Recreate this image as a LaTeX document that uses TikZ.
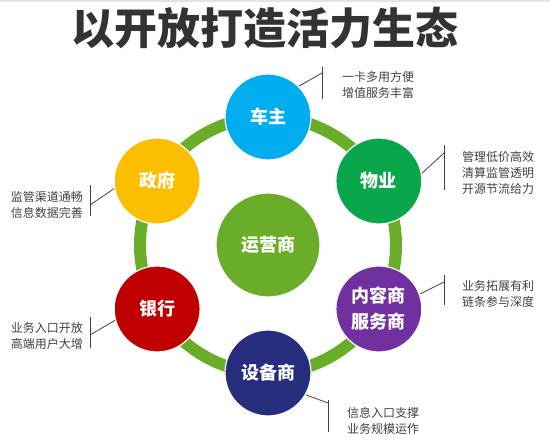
\documentclass[tikz,border=0pt]{standalone}
\usepackage{fontspec}
\setmainfont{Noto Sans CJK SC}
\usetikzlibrary{positioning,calc}
\definecolor{ringgreen}{HTML}{6AAD28}
\definecolor{carblue}{HTML}{00AEEF}
\definecolor{propgreen}{HTML}{0AA64C}
\definecolor{contpurple}{HTML}{7030A0}
\definecolor{devnavy}{HTML}{262D7D}
\definecolor{bankred}{HTML}{C00000}
\definecolor{govamber}{HTML}{FCBF00}
\definecolor{titlegray}{HTML}{333333}
\definecolor{notegray}{HTML}{404040}

\begin{document}
\begin{tikzpicture}[x=1pt,y=-1pt,
	hub/.style={circle, draw=white, line width=1.2pt, minimum size=86pt, inner sep=0pt,
		text=white, align=center, font=\bfseries\fontsize{18}{26}\selectfont},
	note/.style={text=notegray, inner sep=0pt, font=\fontsize{12}{16}\selectfont},
	tick/.style={draw=notegray, line width=0.8pt}]
			\useasboundingbox (0,0) rectangle (550,442);
			\fill[gray!22] (0,0) rectangle (550,2);
			\node[font=\bfseries\fontsize{43}{43}\selectfont, text=titlegray] (title) at (265,28) {以开放打造活力生态};

			% ring and hub
			\draw[ringgreen, line width=12pt] (268,245) circle (128pt);
			\node[hub, fill=ringgreen, minimum size=104pt] (yunying) at (268,245) {运营商};
			\foreach \a/\n/\c/\t in {90/chezhu/carblue/车主, 30/wuye/propgreen/物业,
				-30/neirong/contpurple/{内容商\\服务商}, -90/shebei/devnavy/设备商,
				-150/yinhang/bankred/银行, 150/zhengfu/govamber/政府}
			\node[hub, fill=\c] (\n) at ([shift={(\a:128pt)}]yunying.center) {\t};

			% notes on the right
			\node[note, anchor=west, align=left] (n1) at (342,85) {一卡多用方便\\增值服务丰富};
			\node[note, anchor=west, align=left] (n2) at (462,172.5) {管理低价高效\\清算监管透明\\开源节流给力};
			\node[note, anchor=west, align=left] (n3) at (462,294) {业务拓展有利\\链条参与深度};
			\node[note, anchor=west, align=left] (n4) at (347,420.5) {信息入口支撑\\业务规模运作};
			% notes on the left
			\node[note, anchor=east, align=right] (n5) at (83,204.5) {监管渠道通畅\\信息数据完善};
			\node[note, anchor=east, align=right] (n6) at (83,336) {业务入口开放\\高端用户大增};

			\begin{scope}[tick]
			\draw (322,67) -- (322,99);
			\draw (444,145) -- (444,190);
			\draw (444,275) -- (444,305);
			\draw (328,400) -- (328,432);
			\draw (90,185) -- (90,216);
			\draw (90,317) -- (90,348);
			\coordinate (b1) at (322,73);
			\coordinate (b2) at (444,153);
			\coordinate (b3) at (444,282);
			\coordinate (b4) at (328,403);
			\coordinate (b5) at (90,205);
			\coordinate (b6) at (90,335);
			\draw (chezhu.45) -- (b1);
			\draw (wuye.10) -- (b2);
			\draw (neirong.20) -- (b3);
			\draw (shebei.-30) -- (b4);
			\draw (zhengfu.190) -- (b5);
			\draw (yinhang.195) -- (b6);
			\end{scope}
\end{tikzpicture}
\end{document}
